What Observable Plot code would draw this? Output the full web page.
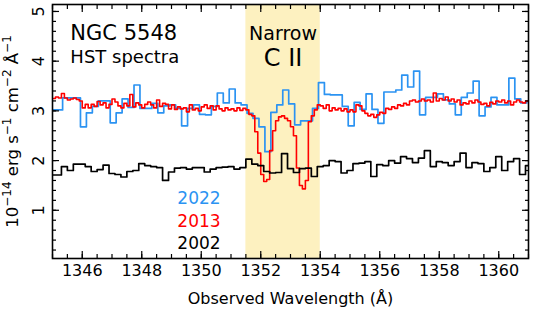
<!DOCTYPE html>
<html><head><meta charset="utf-8">
<script src="https://cdn.jsdelivr.net/npm/d3@7"></script>
<script src="https://cdn.jsdelivr.net/npm/@observablehq/plot@0.6"></script>
<style>body{margin:0;background:#fff}</style>
</head><body><div id="chart"></div>
<script>
// 2022 spectrum (HST), bins of 0.2 Å starting at 1344.94 Å
const blueStart = 1344.94, blueBin = 0.2;
const blue2022 = [3.02,3.02,3.26,3.26,3.26,2.68,2.96,3.09,3.20,3.20,
  2.76,2.96,3.24,3.07,3.52,3.05,3.05,3.15,2.96,3.10,
  3.12,3.05,2.70,3.05,3.12,2.93,2.92,3.09,3.36,3.16,
  3.44,3.16,3.12,2.95,2.85,2.68,2.18,2.97,3.12,3.42,
  3.14,2.72,2.80,2.80,3.05,3.57,3.33,3.32,3.32,3.09,
  2.70,3.17,3.03,3.34,3.03,2.75,3.38,3.38,3.42,3.72,
  3.48,3.80,2.92,3.27,3.27,3.34,3.22,3.14,2.92,3.27,
  3.36,3.60,2.90,3.08,3.27,3.12,3.12,3.66,3.24,3.16,3.20];
// 2013 spectrum, bins of 0.1 Å starting at 1345.0 Å
const redStart = 1345.0, redBin = 0.1;
const red2013 = [3.25,3.28,3.26,3.35,3.26,3.22,3.24,3.26,3.23,3.20,
  3.06,3.13,3.06,3.13,3.09,3.19,3.12,3.16,3.06,3.13,
  3.24,3.18,3.10,3.06,3.15,3.10,3.33,3.08,3.16,3.12,
  3.06,3.13,3.18,3.12,3.06,3.22,3.09,3.15,3.13,3.04,
  3.12,3.03,3.08,3.04,3.06,2.98,3.12,3.02,3.05,3.00,
  3.08,3.12,3.05,3.10,3.02,3.10,3.04,3.00,3.06,3.02,
  3.04,3.00,3.06,3.01,3.05,3.02,2.93,2.90,2.58,2.15,
  1.72,1.58,1.62,2.20,2.60,2.80,2.88,2.90,2.85,2.80,
  2.68,2.50,1.85,1.50,1.43,1.60,2.78,2.90,3.02,3.12,
  3.10,3.05,3.12,3.00,3.06,3.02,3.05,3.00,3.04,2.98,
  3.02,2.98,3.12,3.10,3.00,2.95,2.90,2.93,2.87,2.92,
  2.97,2.95,3.05,3.03,3.08,3.05,3.12,3.10,3.15,3.12,
  3.20,3.22,3.18,3.20,3.24,3.20,3.22,3.18,3.36,3.20,
  3.25,3.22,3.28,3.20,3.24,3.18,3.22,3.12,3.16,3.14,
  3.20,3.16,3.22,3.18,3.13,3.15,3.10,3.17,3.14,3.20,
  3.18,3.22,3.16,3.20,3.12,3.18,3.22,3.18,3.16,3.20];
// 2002 spectrum, bins of 0.2 Å starting at 1344.9 Å
const blackStart = 1344.9, blackBin = 0.2;
const black2002 = [1.71,1.71,1.88,1.80,1.93,1.93,1.88,1.78,1.82,1.91,
  1.74,1.72,1.67,1.78,1.80,1.94,1.90,1.88,1.86,1.60,
  1.77,1.85,1.86,1.83,1.86,1.86,1.77,1.83,1.86,1.87,
  1.88,1.83,1.86,2.03,1.93,1.90,1.78,1.75,1.76,2.14,
  1.84,1.76,1.84,1.85,1.68,1.88,1.90,2.00,1.98,1.75,
  1.80,1.94,1.95,1.98,1.68,1.92,1.90,2.00,1.95,2.08,
  2.04,1.96,2.05,2.20,1.88,1.98,1.96,1.90,1.98,2.15,
  1.86,1.96,1.94,1.78,1.86,2.08,1.80,1.98,2.04,1.72,1.90];

const band = [{x1: 1351.5, x2: 1354.0}];
const xMajor = [1346,1348,1350,1352,1354,1356,1358,1360];
const yMajor = [1,2,3,4,5];
const xMinor = d3.range(1345, 1361.001, 0.5);
const yMinor = d3.range(0.2, 5.101, 0.2);
const years = ["2022","2013","2002"];
const yLabelParts = [["10",""],["−14","sup"],[" erg s",""],["−1","sup"],[" cm",""],["−2","sup"],[" Å",""],["−1","sup"]];

function steps(start, bin, vals) {
  const pts = vals.map((v, i) => ({x: start + i * bin, y: v}));
  pts.push({x: start + vals.length * bin, y: vals[vals.length - 1]});
  return pts;
}

const font = "DejaVu Sans";
const tickOpts = {tickFormat: () => "", label: null, strokeWidth: 1.2};
const blue = "#2b93f2";

const chart = Plot.plot({
  width: 533, height: 310,
  marginLeft: 52, marginRight: 5, marginTop: 4, marginBottom: 52,
  style: {fontFamily: font, fontSize: "16px", background: "white", color: "black"},
  x: {domain: [1345, 1361]},
  y: {domain: [0.03, 5.14]},
  marks: [
    Plot.rect(band, {x1: "x1", x2: "x2", fill: "#fdf1c0"}),
    Plot.line(steps(blueStart, blueBin, blue2022), {x: "x", y: "y", curve: "step-after", stroke: blue, strokeWidth: 1.7, clip: true}),
    Plot.line(steps(redStart, redBin, red2013), {x: "x", y: "y", curve: "step-after", stroke: "#ff0000", strokeWidth: 1.6, clip: true}),
    Plot.line(steps(blackStart, blackBin, black2002), {x: "x", y: "y", curve: "step-after", stroke: "black", strokeWidth: 1.7, clip: true}),
    // inward ticks on all four sides
    Plot.axisX(xMajor, {anchor: "bottom", tickSize: 7, dy: -7, ...tickOpts}),
    Plot.axisX(xMinor, {anchor: "bottom", tickSize: 4, dy: -4, ...tickOpts}),
    Plot.axisX(xMajor, {anchor: "top", tickSize: 7, dy: 7, ...tickOpts}),
    Plot.axisX(xMinor, {anchor: "top", tickSize: 4, dy: 4, ...tickOpts}),
    Plot.axisY(yMajor, {anchor: "left", tickSize: 7, dx: 7, ...tickOpts}),
    Plot.axisY(yMinor, {anchor: "left", tickSize: 4, dx: 4, ...tickOpts}),
    Plot.axisY(yMajor, {anchor: "right", tickSize: 7, dx: -7, ...tickOpts}),
    Plot.axisY(yMinor, {anchor: "right", tickSize: 4, dx: -4, ...tickOpts}),
    Plot.frame({stroke: "black", strokeWidth: 1.6}),
    // tick labels
    Plot.text(xMajor, {x: d => d, frameAnchor: "bottom", dy: 12, lineAnchor: "middle", textAnchor: "middle", text: d => String(d), fontSize: 16}),
    Plot.text(yMajor, {y: d => d, frameAnchor: "left", dx: -14, rotate: -90, lineAnchor: "middle", textAnchor: "middle", text: d => String(d), fontSize: 16}),
    // axis titles
    Plot.text(["Observed Wavelength (Å)"], {frameAnchor: "bottom", dy: 40, lineAnchor: "middle", textAnchor: "middle", fontSize: 16}),
    Plot.text(["10 erg s cm Å"], {frameAnchor: "left", dx: -40, rotate: -90, lineAnchor: "middle", textAnchor: "middle", fontSize: 16.5, className: "ylab"}),
    // annotations
    Plot.text(["NGC 5548"], {x: 1345.6, y: 4.57, textAnchor: "start", fontSize: 21}),
    Plot.text(["HST spectra"], {x: 1345.6, y: 4.08, textAnchor: "start", fontSize: 18}),
    Plot.text(["Narrow"], {x: 1352.75, y: 4.55, fontSize: 19}),
    Plot.text(["C II"], {x: 1352.75, y: 4.05, fontSize: 24}),
    Plot.text([years[0]], {x: 1350.65, y: 1.23, textAnchor: "end", fontSize: 17, fill: blue}),
    Plot.text([years[1]], {x: 1350.65, y: 0.78, textAnchor: "end", fontSize: 17, fill: "#ff0000"}),
    Plot.text([years[2]], {x: 1350.65, y: 0.34, textAnchor: "end", fontSize: 17, fill: "black"})
  ]
});
// rebuild the y-axis title with real superscripts
const yt = d3.select(chart).select("g.ylab text");
if (!yt.empty()) {
  yt.text(null);
  let raised = false;
  for (const [s, kind] of yLabelParts) {
    const t = yt.append("tspan").text(s);
    if (kind === "sup") {
      t.attr("font-size", 12).attr("dy", -7);
      raised = true;
    } else if (raised) {
      t.attr("dy", 7);
      raised = false;
    }
  }
}
document.getElementById("chart").appendChild(chart);
</script>
</body></html>
